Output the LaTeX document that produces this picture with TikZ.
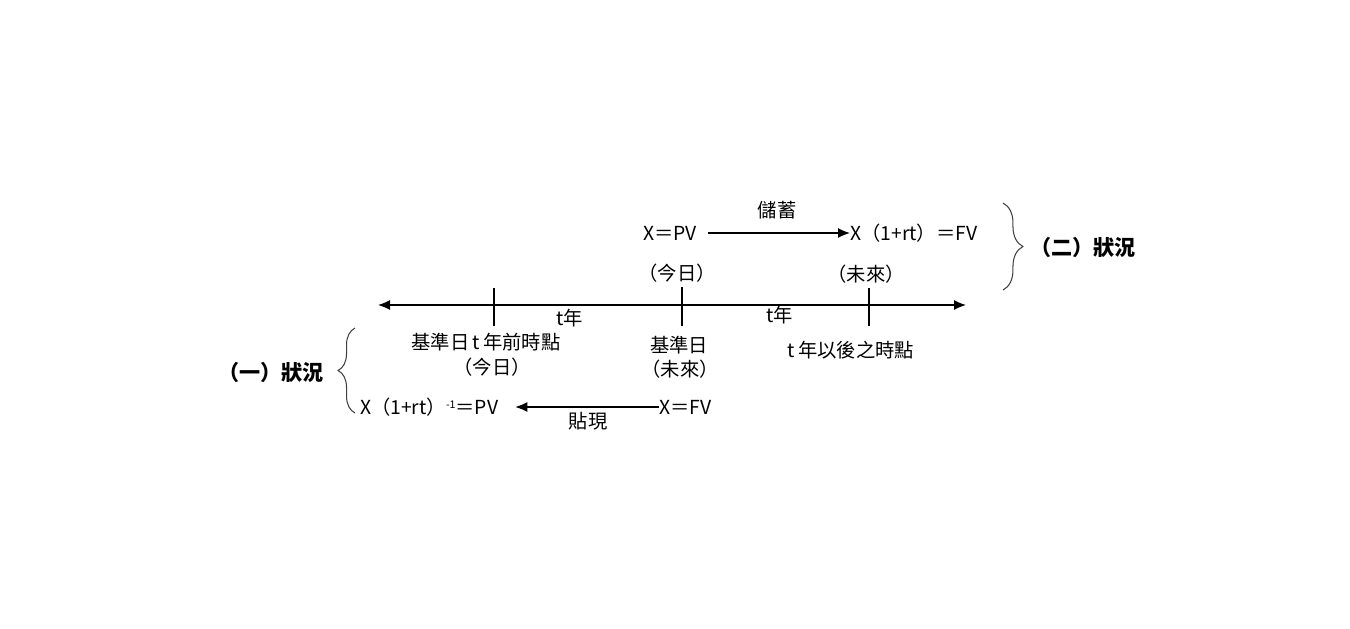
\documentclass[tikz,border=0pt]{standalone}
\usepackage{fontspec}
\setmainfont{Noto Sans CJK TC}
\usetikzlibrary{arrows.meta,positioning,decorations.pathreplacing}

\begin{document}
\begin{tikzpicture}[x=0.02cm, y=-0.02cm,
    font=\fontsize{11}{12}\selectfont,
    >={Latex[length=2.4mm,width=2mm]},
    every node/.style={inner sep=1pt},
    axis/.style={line width=0.7pt},
    heading/.style={font=\fontsize{12}{13}\selectfont\bfseries},
    curly/.style={decorate, line width=0.6pt, draw=black!75}]
    \useasboundingbox (0,0) rectangle (1350,629);
    % The time line and its marks
    \coordinate (L) at (378,305);
    \coordinate (R) at (966,305);
    \draw[axis, <->] (L) -- (R);
    \draw[axis] (494,288) -- (494,326);
    \draw[axis] (682,287) -- (682,326);
    \draw[axis] (869,288) -- (869,326);
    % Labels along the line
    \node (t1) at (570,318) {t年};
    \node (t2) at (780,315) {t年};
    \node (past) at (486,342) {基準日\,t\,年前時點};
    \node (pastday) at (492,367) {（今日）};
    \node (base) at (679,345) {基準日};
    \node (basefut) at (680,369) {（未來）};
    \node (after) at (851,350) {t\,年以後之時點};
    \node (today) at (677,273) {（今日）};
    \node (future) at (866,274) {（未來）};
    % Case two: saving
    \node[anchor=east] (pv) at (699,233) {X＝PV};
    \node[anchor=west, inner xsep=0pt] (fv) at (850,233) {X（1+rt）＝FV};
    \node (save) at (777,210) {儲蓄};
    \draw[axis, ->, shorten <=5pt] (pv) -- (fv);
    % Case one: discounting
    \node[anchor=west] (pvb) at (358,407) {X（1+rt）\raisebox{0.55ex}{\fontsize{6}{6}\selectfont -1}＝PV};
    \node[anchor=west, inner xsep=0pt] (fvb) at (659,407) {X＝FV};
    \node (disc) at (588,421) {貼現};
    \draw[axis, ->, shorten >=8.5pt] (fvb) -- (pvb);
    % The two cases
    \draw[curly, decoration={brace, amplitude=20pt*0.567}] (1003,203) -- (1003,290);
    \node[heading] (case2) at (1083,247) {（二）狀況};
    \draw[curly, decoration={brace, amplitude=17pt*0.567}] (355,413) -- (355,328);
    \node[heading] (case1) at (271,372) {（一）狀況};
\end{tikzpicture}
\end{document}
